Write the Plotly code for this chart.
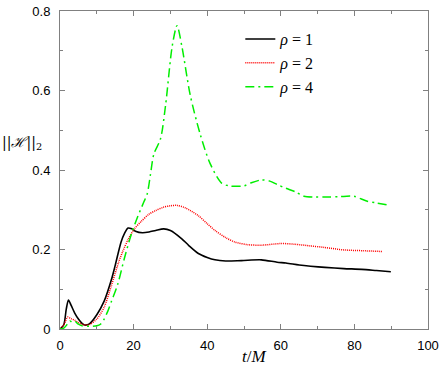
import plotly.graph_objects as go

# rho = 1
t1 = [0, 1, 1.7, 2.3, 3, 4, 5, 6, 6.7, 8, 10, 12, 14, 15, 16.6, 17.5, 18.5, 19.5, 20.5, 22.4,
      24.2, 26, 28.2, 30, 33.1, 35, 37.6, 40, 42.1, 45, 49.3, 54.7, 59, 61.4, 65, 68.1, 72,
      77.1, 82, 86, 89.9]
v1 = [0, 0.01, 0.05, 0.073, 0.06, 0.04, 0.025, 0.014, 0.01, 0.013, 0.036, 0.07, 0.125, 0.16,
      0.219, 0.24, 0.254, 0.252, 0.246, 0.242, 0.244, 0.248, 0.252, 0.248, 0.227, 0.21, 0.19,
      0.18, 0.174, 0.171, 0.172, 0.174, 0.168, 0.166, 0.161, 0.158, 0.155, 0.152, 0.15, 0.147,
      0.144]

# rho = 2
t2 = [0, 1, 2.1, 3, 4, 5, 6, 7, 8, 10, 12, 14, 16, 17, 18.5, 20.2, 22, 24.2, 26, 28, 30, 31.8,
      34, 37.6, 40, 42.1, 45, 47.5, 51.1, 55, 60, 64, 68.1, 72, 77.1, 82, 87.6]
v2 = [0, 0.01, 0.03, 0.026, 0.022, 0.016, 0.012, 0.01, 0.011, 0.025, 0.055, 0.11, 0.17, 0.194,
      0.225, 0.252, 0.27, 0.289, 0.298, 0.306, 0.31, 0.311, 0.305, 0.285, 0.265, 0.248, 0.23,
      0.219, 0.212, 0.211, 0.215, 0.213, 0.209, 0.205, 0.199, 0.197, 0.195]

# rho = 4
t4 = [0, 1, 2, 2.7, 3.5, 4.2, 5, 6, 8, 10, 11, 12, 13, 14, 15.7, 17.5, 19.3, 21, 22.8, 23.7,
      24.6, 25.5, 27.3, 28.7, 30.5, 31.8, 33.1, 35.4, 38.1, 40.8, 43.9, 46, 48.4, 50, 52, 54.7,
      57, 59.1, 61.4, 64, 66.3, 69, 72.6, 76, 79.8, 83.3, 86, 89.6]
v4 = [0, 0.002, 0.012, 0.02, 0.016, 0.018, 0.012, 0.008, 0.007, 0.008, 0.012, 0.025, 0.045,
      0.07, 0.113, 0.178, 0.236, 0.28, 0.32, 0.34, 0.39, 0.44, 0.478, 0.564, 0.712, 0.763,
      0.712, 0.588, 0.49, 0.416, 0.367, 0.36, 0.359, 0.36, 0.368, 0.375, 0.372, 0.363, 0.354,
      0.345, 0.334, 0.332, 0.332, 0.333, 0.334, 0.322, 0.317, 0.311]

names = ["<i>ρ</i> = 1", "<i>ρ</i> = 2", "<i>ρ</i> = 4"]
x_ticks = [0, 20, 40, 60, 80, 100]
y_ticks = [0, 0.2, 0.4, 0.6, 0.8]
y_tick_text = ["0", "0.2", "0.4", "0.6", "0.8"]

fig = go.Figure()
fig.add_trace(go.Scatter(x=t1, y=v1, mode="lines", name=names[0],
                         line=dict(color="black", width=1.6, shape="spline", smoothing=0.8)))
fig.add_trace(go.Scatter(x=t2, y=v2, mode="lines", name=names[1],
                         line=dict(color="#ff0000", width=1.5, dash="1px,1px", shape="spline", smoothing=0.8)))
fig.add_trace(go.Scatter(x=t4, y=v4, mode="lines", name=names[2],
                         line=dict(color="#00ee00", width=1.5, dash="9px,4px,2px,4px", shape="spline", smoothing=0.8)))

axis_common = dict(showgrid=False, zeroline=False, showline=True, linecolor="#808080",
                   linewidth=1, mirror="ticks", ticks="inside", ticklen=5, tickcolor="#808080",
                   ticklabeloverflow="allow",
                   tickfont=dict(family="Liberation Sans", size=13, color="black"))

fig.update_xaxes(range=[0, 100], tickvals=x_ticks, ticklabelstandoff=4,
                 minor=dict(ticks="inside", ticklen=3, dtick=10, tickcolor="#808080"),
                 **axis_common)
fig.update_yaxes(range=[0, 0.8], tickvals=y_ticks, ticktext=y_tick_text, ticklabelstandoff=6,
                 minor=dict(ticks="inside", ticklen=3, dtick=0.1, tickcolor="#808080"),
                 **axis_common)

fig.add_annotation(text="||<i>ℋ</i>||<sub>2</sub>", xref="paper", yref="paper",
                   x=-0.163, xanchor="left", y=0.585, showarrow=False,
                   font=dict(family="DejaVu Serif", size=14, color="black"))
fig.add_annotation(text="<i>t</i>/<i>M</i>", xref="paper", yref="paper",
                   x=0.527, y=-0.085, yanchor="middle", showarrow=False,
                   font=dict(family="Liberation Serif", size=17, color="black"))

fig.update_layout(
    width=443, height=367,
    margin=dict(l=60, r=11, t=4, b=38),
    plot_bgcolor="white", paper_bgcolor="white",
    legend=dict(x=0.49, y=0.965, xanchor="left", yanchor="top",
                bgcolor="rgba(0,0,0,0)", tracegroupgap=0, itemwidth=30,
                font=dict(family="Liberation Serif", size=16, color="black")),
)

fig.write_html("out.html", config={"displayModeBar": False},
               post_script="document.body.style.margin='0';document.body.style.padding='0';")
